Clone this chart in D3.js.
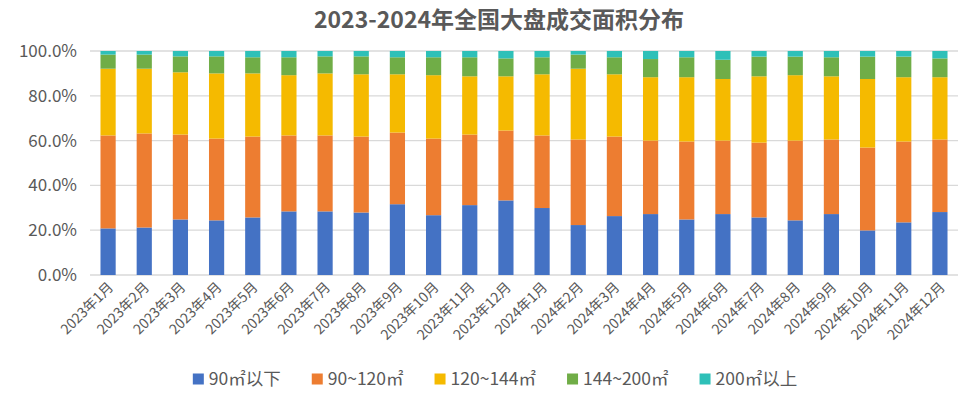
<html>
<head>
<meta charset="utf-8">
<script src="https://d3js.org/d3.v7.min.js"></script>
<style>
  body { margin: 0; background: #fff; }
  text { font-family: "Noto Sans CJK SC", "Noto Sans", sans-serif; fill: #595959; }
</style>
</head>
<body>
<svg width="972" height="397"></svg>
<script>
var months = ["2023年1月","2023年2月","2023年3月","2023年4月","2023年5月","2023年6月","2023年7月","2023年8月","2023年9月","2023年10月","2023年11月","2023年12月",
              "2024年1月","2024年2月","2024年3月","2024年4月","2024年5月","2024年6月","2024年7月","2024年8月","2024年9月","2024年10月","2024年11月","2024年12月"];
var seriesNames = ["90㎡以下", "90~120㎡", "120~144㎡", "144~200㎡", "200㎡以上"];
var colors = ["#4472C4", "#ED7D31", "#F5BA00", "#70AD47", "#2EC0B8"];

// share of each size band, in %
var below90  = [20.8, 21.2, 24.8, 24.4, 25.7, 28.4, 28.4, 27.9, 31.6, 26.7, 31.2, 33.3, 29.9, 22.3, 26.3, 27.2, 24.8, 27.2, 25.7, 24.4, 27.2, 19.9, 23.5, 28.1];
var s90to120 = [41.5, 42.0, 37.9, 36.5, 36.1, 33.9, 33.9, 33.9, 32.0, 34.2, 31.5, 31.2, 32.4, 38.2, 35.5, 32.8, 34.8, 32.8, 33.4, 35.6, 33.3, 37.0, 36.1, 32.4];
var s120to144 = [29.8, 28.9, 27.8, 29.1, 28.2, 26.9, 27.7, 27.8, 26.0, 28.3, 26.0, 24.2, 27.3, 31.6, 27.8, 28.3, 28.7, 27.5, 29.6, 29.2, 28.2, 30.6, 28.7, 27.8];
var s144to200 = [6.3, 6.3, 7.1, 7.6, 7.2, 8.0, 7.6, 8.0, 7.6, 8.0, 8.5, 8.0, 7.6, 6.3, 7.6, 8.1, 8.9, 8.6, 8.8, 8.3, 8.5, 10.0, 9.2, 8.4];
var above200 = [1.6, 1.6, 2.4, 2.4, 2.8, 2.8, 2.4, 2.4, 2.8, 2.8, 2.8, 3.3, 2.8, 1.6, 2.8, 3.6, 2.8, 3.9, 2.5, 2.5, 2.8, 2.5, 2.5, 3.3];
var yTicks = [0, 20, 40, 60, 80, 100];

var svg = d3.select("svg"),
    margin = {top: 51, left: 90, bottom: 122, right: 14},
    width = +svg.attr("width") - margin.left - margin.right,
    height = +svg.attr("height") - margin.top - margin.bottom,
    g = svg.append("g").attr("transform", "translate(" + margin.left + "," + margin.top + ")");

var allSeries = [below90, s90to120, s120to144, s144to200, above200];
var table = months.map(function(m, i) {
  var row = {month: m};
  seriesNames.forEach(function(s, j) { row[s] = allSeries[j][i]; });
  return row;
});

var stack = d3.stack().keys(seriesNames).offset(d3.stackOffsetExpand);
var layers = stack(table);

var x = d3.scaleBand().domain(months).range([0, width]).paddingInner(0.58).paddingOuter(0.29);
var y = d3.scaleLinear().domain([0, 1]).range([height, 0]);

// grid
g.append("g")
  .selectAll("line")
  .data(yTicks)
  .enter().append("line")
  .attr("x1", 0).attr("x2", width)
  .attr("y1", function(d) { return y(d / 100); })
  .attr("y2", function(d) { return y(d / 100); })
  .attr("stroke", "#d9d9d9")
  .attr("stroke-width", 1.3);

var yAxis = g.append("g")
  .call(d3.axisLeft(y).tickValues(yTicks.map(function(d) { return d / 100; }))
    .tickFormat(d3.format(".1%")).tickSize(0).tickPadding(13));
yAxis.select(".domain").remove();
yAxis.selectAll("text").style("font-size", "17px").attr("fill", "#595959");

g.selectAll(".layer")
  .data(layers)
  .enter().append("g")
  .attr("fill", function(d, i) { return colors[i]; })
  .selectAll("rect")
  .data(function(d) { return d; })
  .enter().append("rect")
  .attr("x", function(d) { return x(d.data.month); })
  .attr("y", function(d) { return y(d[1]); })
  .attr("height", function(d) { return y(d[0]) - y(d[1]); })
  .attr("width", x.bandwidth());

var xAxis = g.append("g")
  .attr("transform", "translate(0," + height + ")")
  .call(d3.axisBottom(x).tickSize(0).tickPadding(0));
xAxis.select(".domain").remove();
xAxis.selectAll("text")
  .style("font-size", "14px")
  .attr("fill", "#595959")
  .attr("text-anchor", "end")
  .attr("dy", 0)
  .attr("transform", "translate(6,13) rotate(-45)");

svg.append("text")
  .attr("x", 499)
  .attr("y", 28)
  .attr("text-anchor", "middle")
  .style("font-size", "23px")
  .style("font-weight", "bold")
  .attr("fill", "#505050")
  .text("2023-2024年全国大盘成交面积分布");

// legend
var legend = svg.append("g").attr("transform", "translate(0,379)");
var items = legend.selectAll("g")
  .data(seriesNames)
  .enter().append("g");
items.append("rect")
  .attr("y", -5.5).attr("width", 11).attr("height", 11)
  .attr("fill", function(d, i) { return colors[i]; });
items.append("text")
  .attr("x", 16)
  .attr("dy", "0.35em")
  .style("font-size", "17.5px")
  .attr("fill", "#595959")
  .text(function(d) { return d; });
var gap = 31, pos = 0, offsets = [];
items.each(function() {
  offsets.push(pos);
  pos += 16 + this.querySelector("text").getComputedTextLength() + gap;
});
var total = pos - gap, start = 495 - total / 2;
items.attr("transform", function(d, i) { return "translate(" + (start + offsets[i]) + ",0)"; });
</script>
</body>
</html>
